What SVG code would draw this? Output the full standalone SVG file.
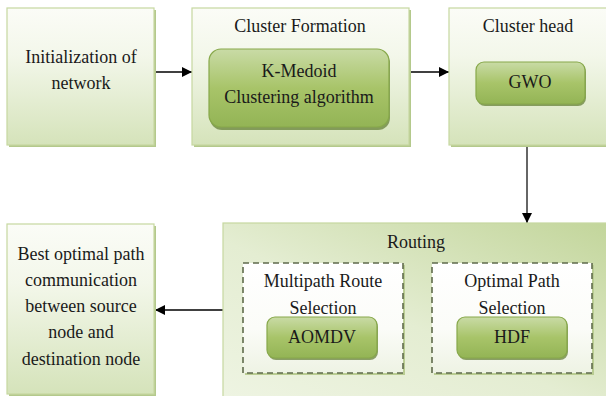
<svg xmlns="http://www.w3.org/2000/svg" width="606" height="396" viewBox="0 0 606 396" font-family="'Liberation Serif', 'DejaVu Serif', serif">
<defs>
<linearGradient id="gBox" x1="0" y1="0" x2="0" y2="1">
<stop offset="0" stop-color="#fbfcf7"/>
<stop offset="0.35" stop-color="#f3f7ea"/>
<stop offset="1" stop-color="#d5e3ba"/>
</linearGradient>
<linearGradient id="gRoute" x1="0" y1="1" x2="1" y2="0">
<stop offset="0" stop-color="#eef4e2"/>
<stop offset="0.45" stop-color="#e4edd2"/>
<stop offset="1" stop-color="#c2d59a"/>
</linearGradient>
<linearGradient id="gInner" x1="0" y1="0" x2="0" y2="1">
<stop offset="0" stop-color="#c9dba6"/>
<stop offset="0.5" stop-color="#a8c469"/>
<stop offset="1" stop-color="#93b455"/>
</linearGradient>
<linearGradient id="gDash" x1="0" y1="0" x2="0" y2="1">
<stop offset="0" stop-color="#ffffff"/>
<stop offset="0.6" stop-color="#fbfcf8"/>
<stop offset="1" stop-color="#eef3e4"/>
</linearGradient>
<marker id="ah" viewBox="0 0 10 10" refX="10" refY="5" markerWidth="10" markerHeight="10" markerUnits="userSpaceOnUse" orient="auto">
<path d="M0,0 L10,5 L0,10 z" fill="#000"/>
</marker>
</defs>
<style>
.box{fill:url(#gBox);stroke:#c6d8a0;stroke-width:1.2}
.shadow{fill:#b4c98c}
.inner{fill:url(#gInner);stroke:#87a84a;stroke-width:1.2}
.ishadow{fill:#5e7a2e;opacity:0.7}
.dash{fill:url(#gDash);stroke:#5f6b4c;stroke-width:1.6;stroke-dasharray:6 4}
.dshadow{fill:#b9cc92}
.t{font-size:18px;fill:#1a1a1a;text-anchor:middle}
.conn{stroke:#000;stroke-width:1.3;fill:none}
</style>
<g id="connectors">
<line class="conn" x1="154" y1="72" x2="192" y2="72" marker-end="url(#ah)"/>
<line class="conn" x1="410" y1="72" x2="449" y2="72" marker-end="url(#ah)"/>
<line x1="527" y1="146" x2="527" y2="223" stroke="#666" stroke-width="2" marker-end="url(#ah)"/>
<line class="conn" x1="223" y1="310" x2="155" y2="310" marker-end="url(#ah)"/>
</g>
<g id="init">
<rect class="shadow" x="9" y="10" width="147" height="137"/>
<rect class="box" x="7" y="8" width="147" height="137"/>
<text class="t" font-family="Liberation Serif" x="81" y="63">Initialization of</text>
<text class="t" font-family="Liberation Serif" x="81" y="89">network</text>
</g>
<g id="clusterFormation">
<rect class="shadow" x="194" y="10" width="217" height="137"/>
<rect class="box" x="192" y="8" width="217" height="137"/>
<text class="t" font-family="Liberation Serif" x="300" y="32">Cluster Formation</text>
<rect class="ishadow" x="210" y="51" width="180" height="79" rx="12"/>
<rect class="inner" x="209" y="49" width="180" height="78" rx="12"/>
<text class="t" font-family="Liberation Serif" x="299" y="77">K-Medoid</text>
<text class="t" font-family="Liberation Serif" x="299" y="103">Clustering algorithm</text>
</g>
<g id="clusterHead">
<rect class="shadow" x="451" y="10" width="160" height="137"/>
<rect class="box" x="449" y="8" width="162" height="137"/>
<text class="t" font-family="Liberation Serif" x="528" y="32">Cluster head</text>
<rect class="ishadow" x="477" y="64" width="109" height="42" rx="8"/>
<rect class="inner" x="476" y="62" width="109" height="42" rx="8"/>
<text class="t" font-family="Liberation Serif" x="530" y="88">GWO</text>
</g>
<g id="routing">
<rect class="shadow" x="225" y="225" width="385" height="175"/>
<rect x="223" y="223" width="390" height="175" fill="url(#gRoute)" stroke="#c6d8a0" stroke-width="1.2"/>
<text class="t" font-family="Liberation Serif" x="416" y="248">Routing</text>
<g id="multipath">
<rect class="dshadow" x="245" y="265" width="160" height="110"/>
<rect class="dash" x="243" y="263" width="160" height="110"/>
<text class="t" font-family="Liberation Serif" x="323" y="287">Multipath Route</text>
<text class="t" font-family="Liberation Serif" x="323" y="314">Selection</text>
<rect class="ishadow" x="268" y="319" width="110" height="41" rx="8"/>
<rect class="inner" x="267" y="317" width="110" height="41" rx="8"/>
<text class="t" font-family="Liberation Serif" x="322" y="343">AOMDV</text>
</g>
<g id="optimal">
<rect class="dshadow" x="434" y="265" width="160" height="110"/>
<rect class="dash" x="432" y="263" width="160" height="110"/>
<text class="t" font-family="Liberation Serif" x="512" y="287">Optimal Path</text>
<text class="t" font-family="Liberation Serif" x="512" y="314">Selection</text>
<rect class="ishadow" x="458" y="319" width="110" height="41" rx="8"/>
<rect class="inner" x="457" y="317" width="110" height="41" rx="8"/>
<text class="t" font-family="Liberation Serif" x="512" y="343">HDF</text>
</g>
</g>
<g id="bestPath">
<rect class="shadow" x="9" y="226" width="147" height="171"/>
<rect class="box" x="7" y="224" width="147" height="170"/>
<text class="t" font-family="Liberation Serif" x="81" y="260">Best optimal path</text>
<text class="t" font-family="Liberation Serif" x="81" y="286">communication</text>
<text class="t" font-family="Liberation Serif" x="81" y="312">between source</text>
<text class="t" font-family="Liberation Serif" x="81" y="338">node and</text>
<text class="t" font-family="Liberation Serif" x="81" y="365">destination node</text>
</g>
</svg>
